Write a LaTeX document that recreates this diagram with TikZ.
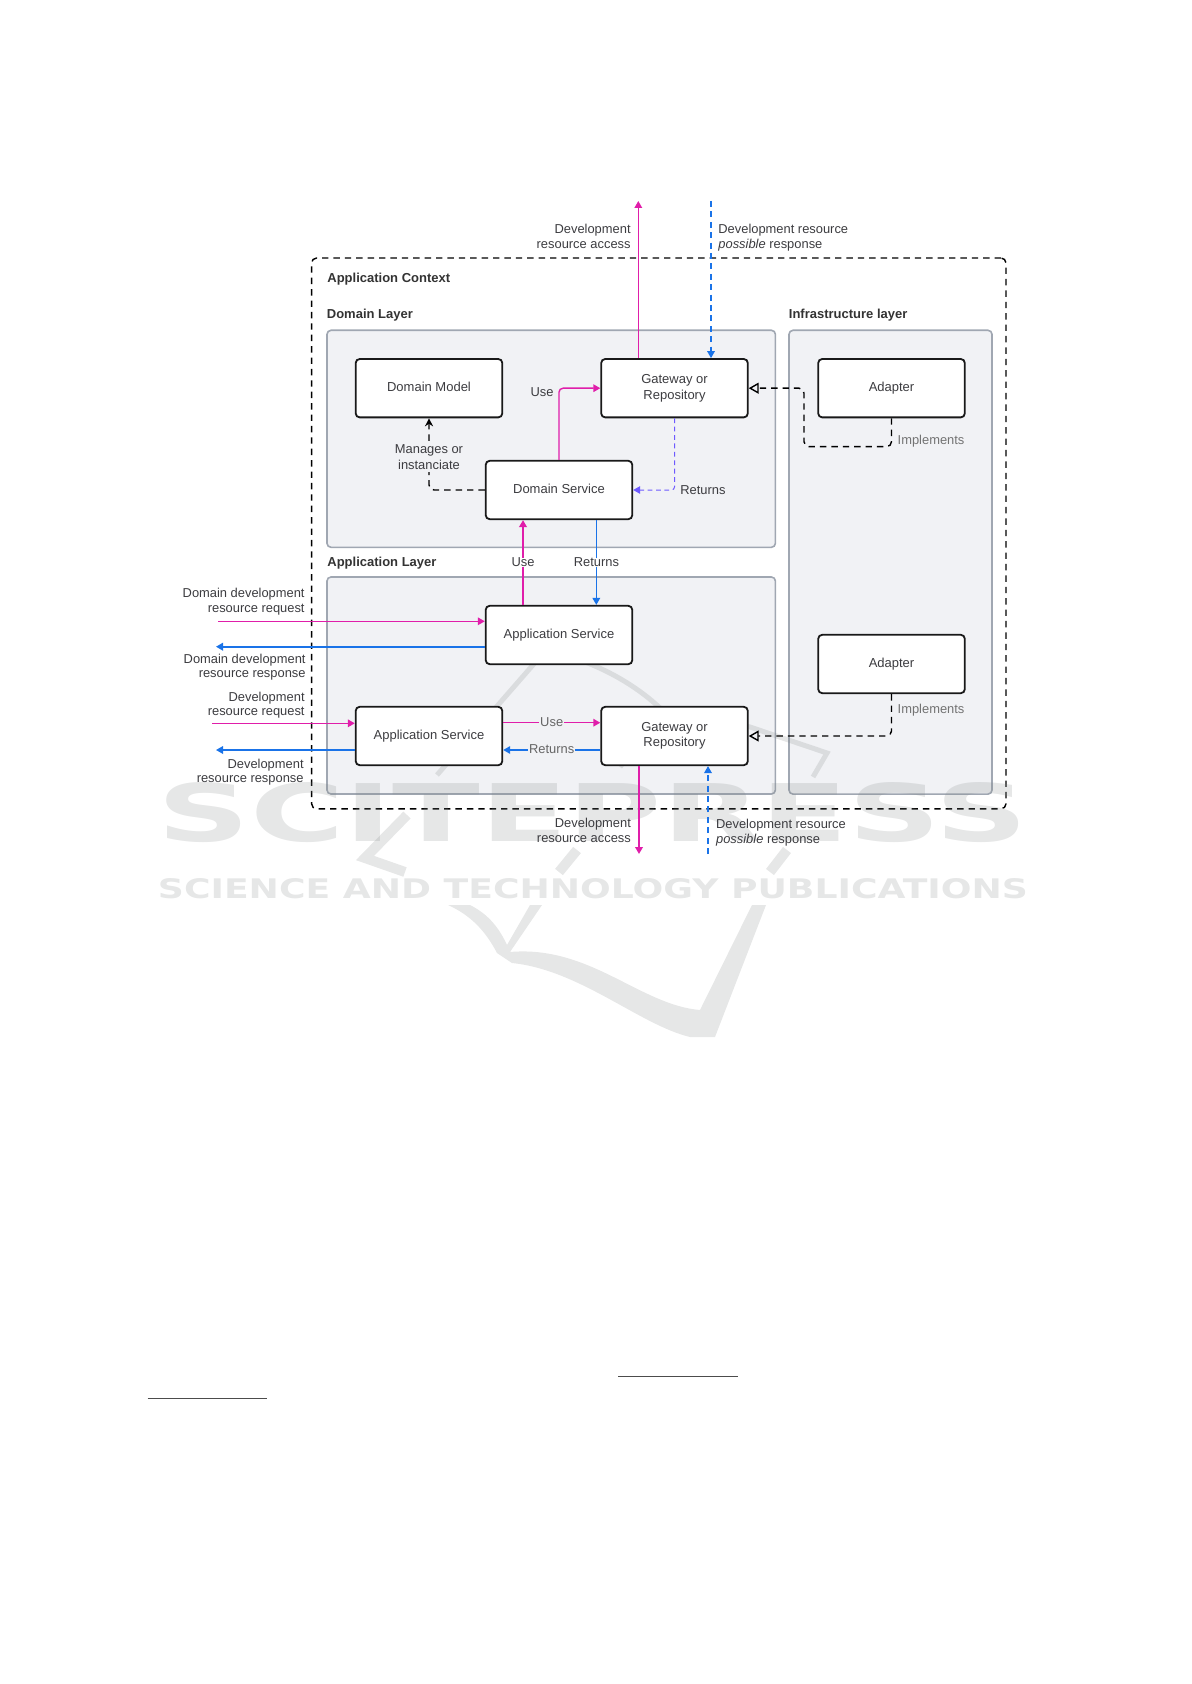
\documentclass[tikz,border=0pt]{standalone}
\usepackage{fontspec}
\setmainfont{Liberation Sans}
\newfontfamily\markfont{DejaVu Sans}
\usetikzlibrary{arrows.meta}
\definecolor{pinkline}{RGB}{224,30,170}
\definecolor{blueline}{RGB}{26,115,232}
\definecolor{purpleline}{RGB}{110,90,255}
\definecolor{layerfill}{RGB}{241,242,245}
\definecolor{layerline}{RGB}{160,167,178}
\definecolor{labeltext}{RGB}{60,60,64}
\definecolor{markgray}{RGB}{128,134,134}
\tikzset{
	layerbox/.style={draw=layerline,fill=layerfill,line width=0.8pt,rounded corners=2pt},
	servicebox/.style={draw=black!90,fill=white,line width=0.9pt,rounded corners=2pt,minimum width=73.3pt,minimum height=29.2pt,inner sep=0pt,text=labeltext,font=\fontsize{6.5}{7.8}\selectfont,align=center},
	title/.style={font=\fontsize{6.5}{8}\selectfont\bfseries,text=black!80,inner sep=0pt,anchor=west},
	note/.style={font=\fontsize{6.45}{8}\selectfont,text=labeltext,inner sep=0pt},
	pinkarrow/.style={draw=pinkline,line width=0.7pt,-{Triangle[length=3.5pt,width=3.8pt]},rounded corners=2pt},
	bluearrow/.style={draw=blueline,line width=0.7pt,-{Triangle[length=3.5pt,width=3.8pt]}},
	bluedash/.style={bluearrow,dash pattern=on 3pt off 2.2pt},
	blackdash/.style={draw=black,line width=0.7pt,dash pattern=on 3.2pt off 2.5pt,rounded corners=2.5pt},
	openhead/.style={-{Triangle[open,length=5pt,width=5.5pt]}},
	markline/.style={draw=markgray,line width=5pt},
}
\begin{document}
\begin{tikzpicture}[x=0.5pt,y=-0.5pt]
	\useasboundingbox (0,0) rectangle (1191,1684);

	% footnote rules
	\coordinate (ruleA) at (618,1376.7);
	\coordinate (ruleB) at (738,1376.7);
	\coordinate (ruleC) at (147.5,1398.7);
	\coordinate (ruleD) at (267,1398.7);
	\draw[black!70,line width=0.4pt] (ruleA) -- (ruleB);
	\draw[black!70,line width=0.4pt] (ruleC) -- (ruleD);

	% context and layers
	\node[draw=black,line width=0.7pt,dash pattern=on 3.2pt off 2.5pt,rounded corners=2.5pt,minimum width=347.2pt,minimum height=275.4pt,inner sep=0pt] (context) at (658.8,533.4) {};
	\node[layerbox,minimum width=224.2pt,minimum height=108.5pt,inner sep=0pt] (domainlayer) at (551.2,438.8) {};
	\node[layerbox,minimum width=224.2pt,minimum height=108.5pt,inner sep=0pt] (applayer) at (551.2,685.5) {};
	\node[layerbox,minimum width=101.5pt,minimum height=231.9pt,inner sep=0pt] (infralayer) at (890.5,562.2) {};

	% watermark
	\begin{scope}[opacity=0.2]
		\node[text=markgray,inner sep=0pt] (markbig) at (593,812.5) {\resizebox{435pt}{29.5pt}{\markfont\bfseries SCITEPRESS}};
		\node[text=markgray,inner sep=0pt] (marksmall) at (593,889) {\resizebox{435pt}{10pt}{\markfont\bfseries SCIENCE AND TECHNOLOGY PUBLICATIONS}};
		\draw[markline,line width=2.5pt] (437,775) -- (546,650) .. controls (590,660) and (630,680) .. (660,708) -- (750,727) -- (827,753) -- (813,777);
		\draw[markline,line width=2.5pt] (620,767) -- (650,727);
		\draw[markline] (407,815) -- (365,858) -- (405,872);
		\draw[markline] (787,850) -- (770,872);
		\draw[markline] (577,850) -- (559,872);
		\fill[markgray] (448,905) -- (470,905) .. controls (490,915) and (500,930) .. (507,945) -- (530,905) -- (542,905) -- (510,952)
			.. controls (590,945) and (640,1005) .. (700,1010) -- (752,905) -- (766,905) -- (715,1037) -- (690,1037)
			.. controls (640,1025) and (580,970) .. (512,963) -- (497,953) .. controls (485,930) and (470,915) .. (448,905) -- cycle;
	\end{scope}

	\node[title] (contexttitle) at (327,279.5) {Application Context};
	\node[title] (domaintitle) at (326.5,315) {Domain Layer};
	\node[title] (infratitle) at (788.5,315) {Infrastructure layer};
	\node[title] (apptitle) at (327,563) {Application Layer};

	% services
	\node[servicebox] (model) at (429,388.2) {\raisebox{1.5pt}{Domain Model}};
	\node[servicebox] (gateup) at (674.5,388.2) {Gateway or\\Repository};
	\node[servicebox] (adapterup) at (891.5,388.2) {\raisebox{1pt}{Adapter}};
	\node[servicebox] (domainservice) at (559,490) {\raisebox{1pt}{Domain Service}};
	\node[servicebox] (appservice) at (559,635) {\raisebox{1pt}{Application Service}};
	\node[servicebox] (appserviceb) at (429,736) {\raisebox{1pt}{Application Service}};
	\node[servicebox] (gatedown) at (674.5,736) {Gateway or\\Repository};
	\node[servicebox] (adapterdown) at (891.5,664) {\raisebox{1pt}{Adapter}};

	% free ends
	\coordinate (accessup) at (638.3,201);
	\coordinate (replyup) at (711,201);
	\coordinate (accessdown) at (639,854);
	\coordinate (replydown) at (708,854);
	\coordinate (domreq) at (218,621.3);
	\coordinate (domres) at (216,646.7);
	\coordinate (devreq) at (212,723.3);
	\coordinate (devres) at (216,750);

	% connectors
	\draw[pinkarrow] (gateup.north -| accessup) -- (accessup);
	\draw[bluedash] (replyup) -- (gateup.north -| replyup);
	\draw[pinkarrow] (domainservice.north) |- (gateup.west);
	\draw[bluedash,draw=purpleline,line width=0.5pt,dash pattern=on 2.4pt off 1.8pt,rounded corners=1.5pt] (gateup.south) |- (domainservice.east);
	\draw[blackdash,-{Stealth[length=4pt,width=4pt]}] (domainservice.west) -| (model.south);
	\draw[blackdash,openhead] (adapterup.south) -- (891.5,446.7) -- (804,446.7) -- (804,388.2) -- (gateup.east);
	\draw[blackdash,openhead] (adapterdown.south) |- (gatedown.east);
	\draw[pinkarrow,line width=1pt] (appservice.north -| 523,0) -- (domainservice.south -| 523,0);
	\draw[bluearrow] (domainservice.south -| 596.3,0) -- (appservice.north -| 596.3,0);
	\draw[pinkarrow,line width=0.6pt] (domreq) -- (domreq -| appservice.west);
	\draw[bluearrow,line width=0.9pt] (domres -| appservice.west) -- (domres);
	\draw[pinkarrow] (devreq) -- (devreq -| appserviceb.west);
	\draw[bluearrow] (devres -| appserviceb.west) -- (devres);
	\draw[pinkarrow] (appserviceb.east |- 0,722.7) -- (gatedown.west |- 0,722.7);
	\draw[bluearrow] (gatedown.west |- 0,750) -- (appserviceb.east |- 0,750);
	\draw[pinkarrow,line width=1pt] (gatedown.south -| accessdown) -- (accessdown);
	\draw[bluedash] (replydown) -- (gatedown.south -| replydown);

	% connector labels
	\node[note] (useup) at (542,392) {Use};
	\node[note,align=center,fill=layerfill,inner ysep=1pt] (manages) at (429,457.5) {Manages or\\instanciate};
	\node[note,anchor=west] (returnsup) at (680,490) {Returns};
	\node[note,anchor=west,text=black!55] (implup) at (897.3,441.5) {Implements};
	\node[note,anchor=west,text=black!55] (impldown) at (897.3,710.5) {Implements};
	\node[note,fill=white,inner xsep=2pt] (usemid) at (523,562) {Use};
	\node[note,fill=white,inner xsep=2pt] (returnsmid) at (596.5,562) {Returns};
	\node[note,text=black!60,fill=layerfill,inner xsep=0.5pt,inner ysep=-1pt] (usedown) at (551.7,722) {Use};
	\node[note,text=black!60,fill=layerfill,inner xsep=0.5pt,inner ysep=-1pt] (returnsdown) at (551.7,749) {Returns};

	\node[note,anchor=east] (accessa) at (631,230) {Development};
	\node[note,anchor=east] (accessb) at (631,245.5) {resource access};
	\node[note,anchor=west] (replya) at (718,230) {Development resource};
	\node[note,anchor=west] (replyb) at (718,245.5) {\textit{possible} response};
	\node[note,anchor=east] (domreqa) at (305,594) {Domain development};
	\node[note,anchor=east] (domreqb) at (305,609.5) {resource request};
	\node[note,anchor=east] (domresa) at (306,660) {Domain development};
	\node[note,anchor=east] (domresb) at (306,675.5) {resource response};
	\node[note,anchor=east] (devreqa) at (305,698) {Development};
	\node[note,anchor=east] (devreqb) at (305,713) {resource request};
	\node[note,anchor=east] (devresa) at (304,765) {Development};
	\node[note,anchor=east] (devresb) at (304,780.5) {resource response};
	\node[note,anchor=east] (downa) at (631.3,824.5) {Development};
	\node[note,anchor=east] (downb) at (631.3,839.5) {resource access};
	\node[note,anchor=west] (downc) at (715.7,825.5) {Development resource};
	\node[note,anchor=west] (downd) at (715.7,840.5) {\textit{possible} response};
\end{tikzpicture}
\end{document}
